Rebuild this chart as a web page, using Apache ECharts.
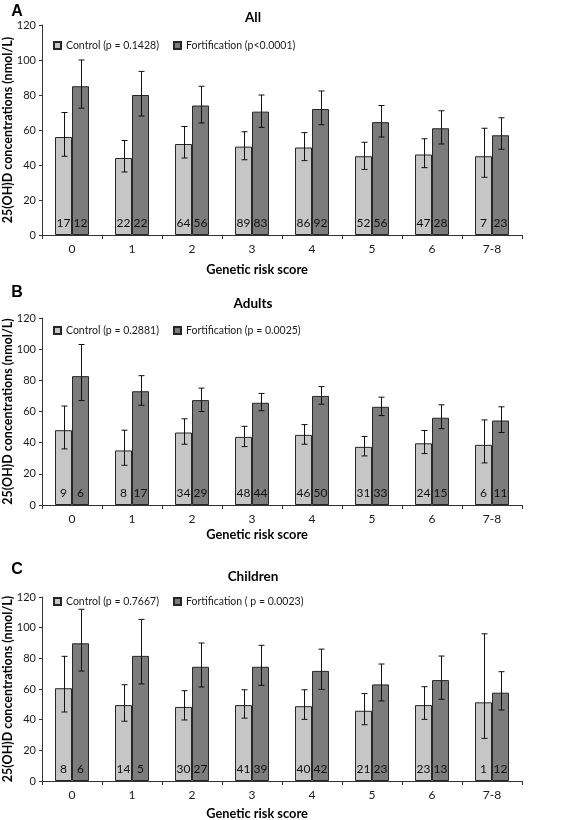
<!DOCTYPE html>
<html><head><meta charset="utf-8">
<script src="https://cdn.jsdelivr.net/npm/echarts@6/dist/echarts.min.js"></script>
<style>html,body{margin:0;padding:0;background:#fff}#c{width:566px;height:820px}</style>
</head><body><div id="c"></div>
<script>
const categories = ['0','1','2','3','4','5','6','7-8'];
const yMin = 0, yMax = 120, yStep = 20;
const panelLetters = ['A','B','C'];
const panelTitles = ['All','Adults','Children'];
const controlNames = ['Control (p = 0.1428)','Control (p = 0.2881)','Control (p = 0.7667)'];
const fortNames = ['Fortification (p<0.0001)','Fortification (p = 0.0025)','Fortification ( p = 0.0023)'];
const xName = 'Genetic risk score';
const yName = '25(OH)D concentrations (nmol/L)';

// Panel A (All)
const A_controlMean = [56,44,52,50.5,50,45,46,45];
const A_controlLow  = [45,36,44,43,42.5,37.5,38.5,33];
const A_controlHigh = [70,54,62,59,58.5,53,55,61];
const A_fortMean    = [85,80,74,70.5,72,64.5,61,57];
const A_fortLow     = [72.5,68,64,61.5,63,56,52,49];
const A_fortHigh    = [100,93.5,85,80,82.3,74,71,67];
const A_controlN    = [17,22,64,89,86,52,47,7];
const A_fortN       = [12,22,56,83,92,56,28,23];

// Panel B (Adults)
const B_controlMean = [48,35,46.5,43.7,45,37.3,39.6,38.6];
const B_controlLow  = [36,25.5,39,37.5,39,31.5,33,27];
const B_controlHigh = [63.5,48,55.3,50.5,51.6,44,47.8,54.6];
const B_fortMean    = [82.7,73,67.3,65.6,70,63,56,54.2];
const B_fortLow     = [67,64,60,60.5,64.7,57.4,49,46.5];
const B_fortHigh    = [103,83,75,71.6,76,69.2,64.3,63];
const B_controlN    = [9,8,34,48,46,31,24,6];
const B_fortN       = [6,17,29,44,50,33,15,11];

// Panel C (Children)
const C_controlMean = [60.5,49.5,48.3,49.5,48.8,45.8,49.5,51.3];
const C_controlLow  = [45,39,39.8,41,40.2,36.7,40.2,27.8];
const C_controlHigh = [81.3,62.8,58.9,59.5,59.5,57,61.5,96];
const C_fortMean    = [89.8,81.6,74.5,74.5,71.8,63,65.8,57.6];
const C_fortLow     = [71.7,63.3,61.3,62.4,59.8,52.2,53.3,46.3];
const C_fortHigh    = [112,105.4,90,88.5,86,76.3,81.5,71.3];
const C_controlN    = [8,14,30,41,40,21,23,1];
const C_fortN       = [6,5,27,39,42,23,13,12];

const panels = [
  {cm:A_controlMean,cl:A_controlLow,ch:A_controlHigh,fm:A_fortMean,fl:A_fortLow,fh:A_fortHigh,cn:A_controlN,fn:A_fortN},
  {cm:B_controlMean,cl:B_controlLow,ch:B_controlHigh,fm:B_fortMean,fl:B_fortLow,fh:B_fortHigh,cn:B_controlN,fn:B_fortN},
  {cm:C_controlMean,cl:C_controlLow,ch:C_controlHigh,fm:C_fortMean,fl:C_fortLow,fh:C_fortHigh,cn:C_controlN,fn:C_fortN}
];

// layout
const FONT = 'Lato, "Open Sans", sans-serif';
const TXT = '#1a1a1a';
const layout = [
  {top:25, bottom:235, legendTop:40, letterY:12, titleY:18, xNameY:270},
  {top:318, bottom:505, legendTop:325, letterY:293, titleY:304, xNameY:535},
  {top:597, bottom:781, legendTop:596, letterY:570, titleY:577, xNameY:814}
];
const gridLeft = 42, gridRight = 522;
const BAR_W = 17;
const CTRL_COLOR = '#c6c6c6', FORT_COLOR = '#7c7c7c', EDGE = '#262626';

const grids=[], xAxes=[], yAxes=[], series=[], legends=[], graphics=[];
panels.forEach((p,i)=>{
  const L = layout[i];
  grids.push({left:gridLeft, width:gridRight-gridLeft, top:L.top, height:L.bottom-L.top, containLabel:false});
  xAxes.push({type:'category', gridIndex:i, data:categories,
    axisLine:{lineStyle:{color:'#333',width:1}},
    axisTick:{show:true, length:4, alignWithLabel:false, lineStyle:{color:'#333'}},
    axisLabel:{color:TXT, fontSize:12, fontFamily:FONT, margin:8}});
  yAxes.push({type:'value', gridIndex:i, min:yMin, max:yMax, interval:yStep,
    splitLine:{show:false},
    axisLine:{show:true, lineStyle:{color:'#333',width:1}},
    axisTick:{show:true, length:3, lineStyle:{color:'#333'}},
    axisLabel:{color:TXT, fontSize:11, fontFamily:FONT, margin:6}});
  const labelFor = arr => ({show:true, position:'insideBottom', distance:6, color:'#111', fontSize:12, fontFamily:FONT,
    formatter: prm => String(arr[prm.dataIndex])});
  series.push({type:'bar', name:controlNames[i], xAxisIndex:i, yAxisIndex:i, data:p.cm, barWidth:BAR_W, barGap:'0%',
    itemStyle:{color:CTRL_COLOR, borderColor:EDGE, borderWidth:1}, label:labelFor(p.cn), z:2});
  series.push({type:'bar', name:fortNames[i], xAxisIndex:i, yAxisIndex:i, data:p.fm, barWidth:BAR_W, barGap:'0%',
    itemStyle:{color:FORT_COLOR, borderColor:EDGE, borderWidth:1}, label:labelFor(p.fn), z:2});
  [[p.cl,p.ch,-1],[p.fl,p.fh,1]].forEach(([lo,hi,side])=>{
    series.push({type:'custom', xAxisIndex:i, yAxisIndex:i, z:5, silent:true,
      data: categories.map((c,k)=>[k, lo[k], hi[k]]),
      renderItem:(params, api)=>{
        const a = api.coord([api.value(0), api.value(1)]);
        const b = api.coord([api.value(0), api.value(2)]);
        const x = Math.round(a[0] + side*BAR_W/2) + 0.5;
        const st = {stroke:'#111', lineWidth:1};
        return {type:'group', children:[
          {type:'line', shape:{x1:x, y1:a[1], x2:x, y2:b[1]}, style:st},
          {type:'line', shape:{x1:x-3, y1:a[1], x2:x+3, y2:a[1]}, style:st},
          {type:'line', shape:{x1:x-3, y1:b[1], x2:x+3, y2:b[1]}, style:st}
        ]};
      }});
  });
  const legStyle = {color:TXT, fontSize:10.5, fontFamily:FONT};
  legends.push({left:53, top:L.legendTop, data:[controlNames[i]], icon:'rect', itemWidth:7, itemHeight:7, textStyle:legStyle, padding:0, selectedMode:false});
  legends.push({left:173, top:L.legendTop, data:[fortNames[i]], icon:'rect', itemWidth:7, itemHeight:7, textStyle:legStyle, padding:0, selectedMode:false});
  graphics.push({type:'text', x:17, y:L.letterY, style:{text:panelLetters[i], fontSize:16, fontWeight:'bold', fontFamily:'"Liberation Sans", Arial, sans-serif', fill:'#000', align:'center', verticalAlign:'middle'}});
  graphics.push({type:'text', x:253, y:L.titleY, style:{text:panelTitles[i], fontSize:13.5, fontWeight:'bold', fontFamily:FONT, fill:'#000', align:'center', verticalAlign:'middle'}});
  graphics.push({type:'text', x:257, y:L.xNameY, style:{text:xName, fontSize:12.8, fontWeight:'bold', fontFamily:FONT, fill:'#000', align:'center', verticalAlign:'middle'}});
  graphics.push({type:'text', x:8, y:(L.top+L.bottom)/2, rotation:Math.PI/2, style:{text:yName, fontSize:12.5, fontWeight:'bold', fontFamily:FONT, fill:'#000', align:'center', verticalAlign:'middle'}});
});

const chart = echarts.init(document.getElementById('c'), null, {renderer:'canvas'});
chart.setOption({
  animation:false,
  backgroundColor:'#fff',
  grid:grids, xAxis:xAxes, yAxis:yAxes, series:series, legend:legends, graphic:graphics
});
</script></body></html>
